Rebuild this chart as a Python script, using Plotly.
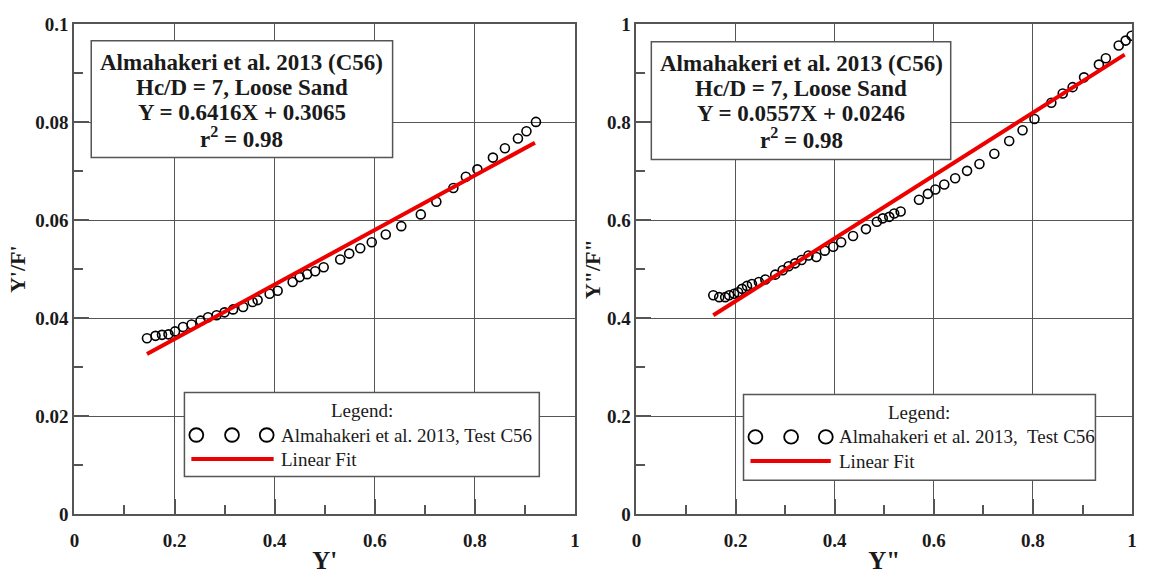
import plotly.graph_objects as go
from plotly.subplots import make_subplots

# ---- Test C56 measurements: Y' vs Y'/F' (left panel) ----
y1_x = [0.145, 0.162, 0.175, 0.188, 0.201, 0.217, 0.234, 0.252, 0.267, 0.284,
        0.300, 0.317, 0.337, 0.356, 0.366, 0.390, 0.406, 0.436, 0.450, 0.465,
        0.481, 0.498, 0.531, 0.549, 0.571, 0.594, 0.622, 0.653, 0.692, 0.723,
        0.757, 0.782, 0.805, 0.836, 0.860, 0.886, 0.903, 0.922]
y1_y = [0.0359, 0.0364, 0.0366, 0.0367, 0.0373, 0.0382, 0.0387, 0.0395, 0.0402, 0.0406,
        0.0412, 0.0418, 0.0423, 0.0433, 0.0437, 0.0450, 0.0456, 0.0474, 0.0484, 0.0490,
        0.0496, 0.0504, 0.0520, 0.0532, 0.0543, 0.0555, 0.0571, 0.0588, 0.0612, 0.0638,
        0.0666, 0.0689, 0.0704, 0.0728, 0.0747, 0.0767, 0.0782, 0.0801]

# ---- Test C56 measurements: Y'' vs Y''/F'' (right panel) ----
y2_x = [0.155, 0.167, 0.179, 0.187, 0.197, 0.205, 0.213, 0.223, 0.233, 0.247,
        0.260, 0.280, 0.295, 0.307, 0.320, 0.333, 0.347, 0.363, 0.380, 0.397,
        0.413, 0.437, 0.463, 0.485, 0.497, 0.510, 0.520, 0.533, 0.570, 0.588,
        0.603, 0.621, 0.643, 0.667, 0.692, 0.722, 0.752, 0.779, 0.803, 0.837,
        0.860, 0.880, 0.903, 0.933, 0.947, 0.973, 0.987, 0.999]
y2_y = [0.447, 0.443, 0.443, 0.447, 0.450, 0.453, 0.460, 0.466, 0.470, 0.474,
        0.479, 0.489, 0.498, 0.506, 0.512, 0.519, 0.528, 0.525, 0.538, 0.546,
        0.555, 0.568, 0.582, 0.597, 0.604, 0.607, 0.614, 0.618, 0.642, 0.654,
        0.663, 0.673, 0.686, 0.701, 0.715, 0.736, 0.762, 0.784, 0.807, 0.840,
        0.859, 0.872, 0.892, 0.918, 0.931, 0.957, 0.967, 0.977]

# ---- Linear fits (slope, intercept) and their x ranges ----
fit1 = (0.0557, 0.0246)
fit1_range = [0.145, 0.92]
fit2 = (0.6416, 0.3065)
fit2_range = [0.155, 0.985]

# ---- Text ----
box1_lines = ["Almahakeri et al. 2013 (C56)", "Hc/D = 7, Loose Sand",
              "Y = 0.6416X + 0.3065", "r<sup>2</sup> = 0.98"]
box2_lines = ["Almahakeri et al. 2013 (C56)", "Hc/D = 7, Loose Sand",
              "Y = 0.0557X + 0.0246", "r<sup>2</sup> = 0.98"]
legend_data_1 = "Almahakeri et al. 2013, Test C56"
legend_data_2 = "Almahakeri et al. 2013,  Test C56"
legend_fit = "Linear Fit"
xlabels = ["Y'", 'Y"']
ylabels = ["Y'/F'", 'Y"/F"']

W, H = 1150, 579
SERIF = "Liberation Serif"
FRAME = "#555555"
INK = "#1a1a1a"


def px(x):
    return x / W


def py(y):
    return 1 - y / H


fig = make_subplots(rows=1, cols=2)

for col, (xs, ys, fit, rng) in enumerate(
        [(y1_x, y1_y, fit1, fit1_range), (y2_x, y2_y, fit2, fit2_range)], start=1):
    fig.add_trace(go.Scatter(
        x=xs, y=ys, mode="markers",
        marker=dict(symbol="circle-open", size=9, color="black",
                    line=dict(width=1.6, color="black")),
        showlegend=False, hoverinfo="skip"), row=1, col=col)
    fx = rng
    fy = [fit[0] * v + fit[1] for v in fx]
    fig.add_trace(go.Scatter(
        x=fx, y=fy, mode="lines", line=dict(color="#ee0000", width=4),
        showlegend=False, hoverinfo="skip"), row=1, col=col)

axis_common = dict(
    showline=True, mirror=True, linecolor=FRAME, linewidth=2,
    showgrid=True, gridcolor=FRAME, gridwidth=1, zeroline=False,
    ticks="inside", ticklen=15, tickwidth=1.5, tickcolor=FRAME,
    tickfont=dict(family=SERIF, size=19, color=INK, weight="bold"),
)

y_dom = [1 - 523 / H, 1 - 15 / H]
fig.update_xaxes(**axis_common, ticklabelstandoff=8)
fig.update_yaxes(**axis_common)


def minor(step):
    return dict(ticks="inside", ticklen=9, dtick=step, tickcolor=FRAME, showgrid=False)


xtitle_font = dict(family=SERIF, size=25, color=INK, weight="bold")
ytitle_font = dict(family=SERIF, size=22, color=INK, weight="bold")

fig.update_layout(
    xaxis=dict(domain=[px(70), px(575)], range=[0, 1], dtick=0.2, minor=minor(0.1),
               title=dict(text=xlabels[0], standoff=2, font=xtitle_font)),
    yaxis=dict(domain=y_dom, range=[0, 0.1], dtick=0.02, minor=minor(0.01),
               title=dict(text=ylabels[0], standoff=4, font=ytitle_font)),
    xaxis2=dict(domain=[px(637), px(1137)], range=[0, 1], dtick=0.2, minor=minor(0.1),
                title=dict(text=xlabels[1], standoff=2, font=xtitle_font)),
    yaxis2=dict(domain=y_dom, range=[0, 1], dtick=0.2, minor=minor(0.1),
                title=dict(text=ylabels[1], standoff=0, font=ytitle_font)),
    width=W, height=H,
    margin=dict(l=0, r=0, t=0, b=0),
    plot_bgcolor="white", paper_bgcolor="white",
)

shapes = []
annotations = []

# Equation boxes, one annotation per line for a tight line pitch
for (x0, y0, x1, y1), lines in [((87, 32, 391, 153), box1_lines),
                                ((652, 33, 954, 155), box2_lines)]:
    shapes.append(dict(type="rect", xref="paper", yref="paper",
                       x0=px(x0), x1=px(x1), y0=py(y1), y1=py(y0),
                       line=dict(color=FRAME, width=1.5), fillcolor="white", layer="above"))
    for i, line in enumerate(lines):
        annotations.append(dict(xref="paper", yref="paper",
                                x=px((x0 + x1) / 2), y=py(y0 + 22 + 26 * i),
                                text=line, showarrow=False,
                                xanchor="center", yanchor="middle", align="center",
                                font=dict(family=SERIF, size=23, color=INK, weight="bold")))

# Legend boxes
for (x0, y0, x1, y1), circles, line_x, text_x, label in [
        ((181, 397, 539, 484), (193, 229, 264), (188, 271), 276, legend_data_1),
        ((745, 399, 1100, 488), (757, 793, 828), (752, 833), 839, legend_data_2)]:
    shapes.append(dict(type="rect", xref="paper", yref="paper",
                       x0=px(x0), x1=px(x1), y0=py(y1), y1=py(y0),
                       line=dict(color=FRAME, width=1.5), fillcolor="white", layer="above"))
    annotations.append(dict(xref="paper", yref="paper", x=px((x0 + x1) / 2), y=py(y0 + 19),
                            text="Legend:", showarrow=False, xanchor="center", yanchor="middle",
                            font=dict(family=SERIF, size=19, color=INK)))
    row1 = y0 + 44
    row2 = y0 + 69
    for c in circles:
        shapes.append(dict(type="circle", xref="paper", yref="paper",
                           x0=px(c - 7), x1=px(c + 7), y0=py(row1 + 7), y1=py(row1 - 7),
                           line=dict(color="black", width=1.8), layer="above"))
    shapes.append(dict(type="line", xref="paper", yref="paper",
                       x0=px(line_x[0]), x1=px(line_x[1]), y0=py(row2), y1=py(row2),
                       line=dict(color="#ee0000", width=4), layer="above"))
    annotations.append(dict(xref="paper", yref="paper", x=px(text_x), y=py(row1),
                            text=label, showarrow=False, xanchor="left", yanchor="middle",
                            font=dict(family=SERIF, size=19, color=INK)))
    annotations.append(dict(xref="paper", yref="paper", x=px(text_x), y=py(row2),
                            text=legend_fit, showarrow=False, xanchor="left", yanchor="middle",
                            font=dict(family=SERIF, size=19, color=INK)))

fig.update_layout(shapes=shapes, annotations=annotations)

fig.write_html("out.html")
